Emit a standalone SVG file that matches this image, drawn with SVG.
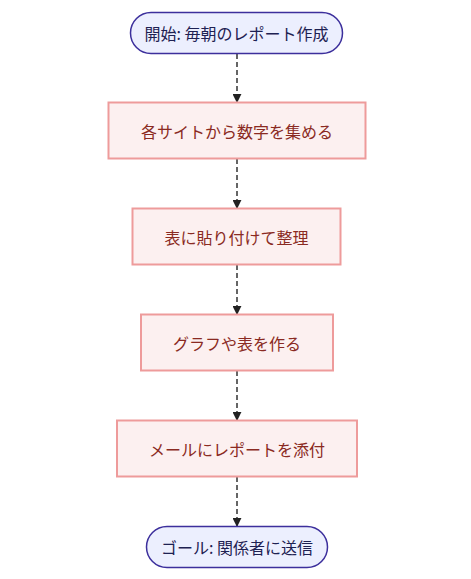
<svg xmlns="http://www.w3.org/2000/svg" width="471" height="579" viewBox="0 0 471 579">
<defs>
<marker id="arrow" viewBox="0 0 10 10" refX="9" refY="5" markerWidth="9" markerHeight="9" markerUnits="userSpaceOnUse" orient="auto">
<path d="M0,0 L10,5 L0,10 Z" fill="#222"/>
</marker>
<style>
text{font-family:"Noto Sans CJK JP","Noto Sans",sans-serif;font-size:16px;text-anchor:middle;dominant-baseline:central}
.term rect{fill:#ECEFFE;stroke:#3C2F9C;stroke-width:1.5}
.term text{fill:#1E2152}
.step rect{fill:#FCF0F0;stroke:#EE9B9B;stroke-width:2}
.step text{fill:#8A2A22}
.edge{stroke:#333;stroke-width:1.5;stroke-dasharray:5 3;fill:none;marker-end:url(#arrow)}
</style>
</defs>
<rect width="471" height="579" fill="#fff"/>
<g id="edges">
<path class="edge" d="M237,54 L237,102"/>
<path class="edge" d="M237,159 L237,208"/>
<path class="edge" d="M237,265 L237,314"/>
<path class="edge" d="M237,371 L237,420"/>
<path class="edge" d="M237,477 L237,526"/>
</g>
<g id="start" class="term">
<rect x="130.5" y="12.5" width="212" height="41" rx="20.5"/>
<text x="236.5" y="33">開始: 毎朝のレポート作成</text>
</g>
<g id="n1" class="step">
<rect x="108.5" y="102.5" width="257" height="56"/>
<text x="237" y="130.5">各サイトから数字を集める</text>
</g>
<g id="n2" class="step">
<rect x="132.5" y="208.5" width="208" height="56"/>
<text x="236.5" y="236.5">表に貼り付けて整理</text>
</g>
<g id="n3" class="step">
<rect x="141" y="314.5" width="192" height="56"/>
<text x="237" y="342.5">グラフや表を作る</text>
</g>
<g id="n4" class="step">
<rect x="117" y="420.5" width="240" height="56"/>
<text x="237" y="448.5">メールにレポートを添付</text>
</g>
<g id="end" class="term">
<rect x="146.5" y="526.5" width="181" height="41" rx="20.5"/>
<text x="237" y="547">ゴール: 関係者に送信</text>
</g>
</svg>
